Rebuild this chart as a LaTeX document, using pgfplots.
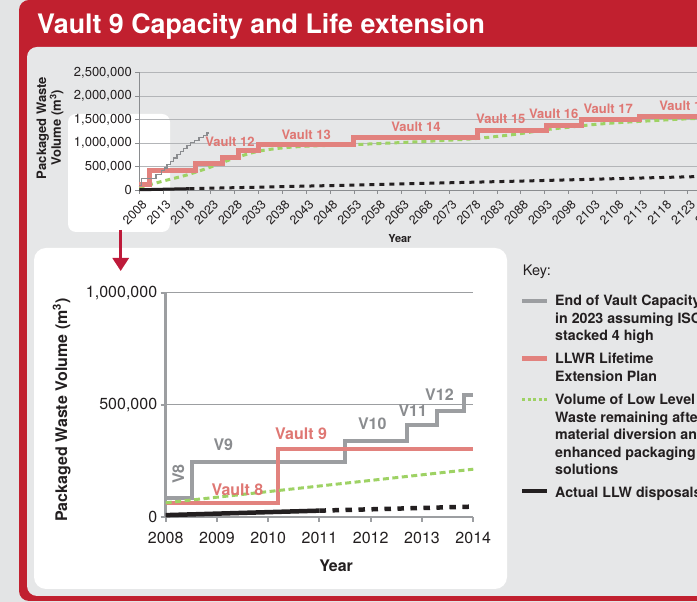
\documentclass[border=0pt]{standalone}
\usepackage{pgfplots}
\pgfplotsset{compat=1.18}
\usepackage{fontspec}
\setmainfont{TeX Gyre Heros}
\usetikzlibrary{arrows.meta}
\definecolor{bggray}{HTML}{E3E4E5}
\definecolor{framered}{HTML}{C1202F}
\definecolor{panelgray}{HTML}{E6E7E8}
\definecolor{arrowred}{HTML}{BE1A3A}
\definecolor{vgray}{HTML}{9C9EA1}
\definecolor{vgraydark}{HTML}{8A8C8F}
\definecolor{vred}{HTML}{E2827E}
\definecolor{lblred}{HTML}{DF7773}
\definecolor{vgreen}{HTML}{9ED264}
\definecolor{vblack}{HTML}{231F20}
\definecolor{gridgray}{HTML}{B3B5B8}
\definecolor{txt}{HTML}{231F20}
\begin{document}
\begin{tikzpicture}[x=1pt,y=1pt]
\useasboundingbox (0,0) rectangle (697,602);
\clip (0,0) rectangle (697,602);
\fill[bggray] (0,0) rectangle (697,602);
\fill[framered, rounded corners=10pt] (19,1) rectangle (760,602);
\fill[panelgray, rounded corners=10pt] (27,6) rectangle (760,555);
\fill[white, rounded corners=8pt] (68,370) rectangle (170,488);
\fill[white, rounded corners=12pt] (34,13) rectangle (507,354);
\draw[arrowred, line width=3pt, -{Triangle[width=16pt,length=13pt]}] (120.7,372) -- (120.7,331);
\node[anchor=base west, text=white, font=\fontsize{26.8}{30}\selectfont\bfseries, inner sep=0pt] at (37,568.7) {Vault 9 Capacity and Life extension};

% ---------------- key ----------------
\node[anchor=base west, text=txt, font=\fontsize{14.5}{17}\selectfont, inner sep=0pt] at (522.7,326) {Key:};
\draw[vgray, line width=4pt] (522,301.3) -- (547,301.3);
\draw[vred, line width=5pt] (522,243) -- (547,243);
\draw[vgreen, line width=3.5pt, dash pattern=on 3pt off 2.5pt] (522,202.3) -- (547,202.3);
\draw[vblack, line width=4pt] (522,111) -- (547,111);
\begin{scope}[every node/.style={anchor=base west, text=txt, font=\fontsize{14.2}{17}\selectfont\bfseries, inner sep=0pt}]
\node at (555,296.3) {End of Vault Capacity};
\node at (555,278.7) {in 2023 assuming ISOs};
\node at (555,261.5) {stacked 4 high};
\node at (555,238) {LLWR Lifetime};
\node at (555,220.5) {Extension Plan};
\node at (555,197) {Volume of Low Level};
\node at (555,179.5) {Waste remaining after};
\node at (555,162) {material diversion and};
\node at (555,144.5) {enhanced packaging};
\node at (555,127) {solutions};
\node at (555,104.3) {Actual LLW disposals};
\end{scope}

% ---------------- top chart ----------------
\begin{axis}[
  scale only axis, width=629.6pt, height=117.5pt,
  at={(139.3pt,412pt)}, anchor=south west,
  xmin=2008, xmax=2140, ymin=0, ymax=2500000,
  clip=false,
  axis x line*=bottom, axis y line*=left,
  axis line style={vgraydark, line width=0.8pt, -},
  major tick length=4pt, tick align=outside,
  tick style={vgraydark, line width=0.8pt},
  xtick={2008,2013,...,2138}, ytick={0,500000,...,2500000},
  scaled y ticks=false,
  yticklabel style={/pgf/number format/fixed, /pgf/number format/1000 sep={,}, /pgf/number format/assume math mode=true, font=\fontsize{13}{15}\selectfont, text=txt},
  xticklabel style={/pgf/number format/1000 sep={}, /pgf/number format/assume math mode=true, font=\fontsize{12.5}{14}\selectfont, xshift=2pt, yshift=-3pt, rotate=45, anchor=north east, inner sep=1.5pt, text=txt},
  ymajorgrids, grid style={gridgray, line width=0.8pt},
  ylabel={Packaged Waste\\Volume (m\textsuperscript{3})},
  ylabel style={align=center, font=\fontsize{13}{13.7}\selectfont\bfseries, text=txt, at={(axis description cs:-0.1418,0.528)}, anchor=center},
  xlabel={Year},
  xlabel style={font=\fontsize{11}{13}\selectfont\bfseries, text=txt, at={(axis description cs:0.414,-0.417)}, anchor=center},
]
\addplot[vgreen, line width=3pt, dash pattern=on 5pt off 4pt, smooth] coordinates {
 (2008,50000) (2013,190000) (2018,320000) (2023,490000) (2028,680000) (2033,825000)
 (2038,895000) (2043,932000) (2048,950000) (2053,965000) (2063,1010000) (2073,1060000)
 (2078,1090000) (2083,1140000) (2088,1200000) (2093,1280000) (2098,1335000) (2103,1390000)
 (2108,1430000) (2113,1460000) (2123,1515000) (2133,1550000) (2140,1570000)};
\addplot[vred, line width=5pt, const plot] coordinates {
 (2008,110000) (2010.2,410000) (2019.8,560000) (2025.4,700000) (2028.8,830000) (2033,960000)
 (2053,1110000) (2079,1260000) (2093.3,1370000) (2100.7,1490000) (2112.9,1570000) (2140,1570000)};
\addplot[vgraydark, line width=1.3pt, const plot] coordinates {
 (2008,90000) (2008.5,245000) (2011.5,336000) (2012.7,410000) (2013.3,470000) (2013.8,542000)
 (2014.5,610000) (2015.2,680000) (2015.9,750000) (2016.6,820000) (2017.3,890000) (2018,950000)
 (2018.8,1010000) (2019.6,1060000) (2020.5,1110000) (2021.4,1160000) (2022.2,1210000) (2022.6,1210000)};
\addplot[vblack, line width=3pt] coordinates {(2008,5000) (2018.5,28000)};
\addplot[vblack, line width=3pt, dash pattern=on 5pt off 5pt] coordinates {
 (2018.5,28000) (2053,105000) (2088,190000) (2123,280000) (2140,320000)};
\begin{scope}[every node/.style={font=\fontsize{13}{15}\selectfont\bfseries, text=lblred}]
\node at (axis cs:2027,1028000) {Vault 12};
\node at (axis cs:2043,1170000) {Vault 13};
\node at (axis cs:2066,1334000) {Vault 14};
\node at (axis cs:2083.8,1504000) {Vault 15};
\node at (axis cs:2094.9,1617000) {Vault 16};
\node at (axis cs:2106.3,1717000) {Vault 17};
\node at (axis cs:2122.2,1787000) {Vault 18};
\end{scope}
\end{axis}

% ---------------- bottom chart ----------------
\begin{axis}[
  scale only axis, width=307.6pt, height=224pt,
  at={(165.7pt,85.3pt)}, anchor=south west,
  xmin=2008, xmax=2014, ymin=0, ymax=1000000,
  clip=false,
  axis x line*=bottom, axis y line*=left,
  x axis line style={vgray, line width=2pt, -},
  y axis line style={vgray, line width=3pt, -},
  major tick length=5pt, tick align=outside,
  tick style={vgray, line width=2pt},
  xtick={2008,2009,...,2014}, ytick={0,500000,1000000},
  scaled y ticks=false,
  yticklabel style={/pgf/number format/fixed, /pgf/number format/1000 sep={,}, /pgf/number format/assume math mode=true, font=\fontsize{16}{18}\selectfont, text=txt},
  xticklabel style={/pgf/number format/1000 sep={}, /pgf/number format/assume math mode=true, font=\fontsize{16}{18}\selectfont, text=txt, yshift=-7pt},
  ymajorgrids, grid style={vgray, line width=1.5pt},
  ylabel={Packaged Waste Volume (m\textsuperscript{3})},
  ylabel style={font=\fontsize{16}{18}\selectfont\bfseries, text=txt, at={(axis description cs:-0.338,0.476)}, anchor=center},
  xlabel={Year},
  xlabel style={font=\fontsize{16}{18}\selectfont\bfseries, text=txt, at={(axis description cs:0.554,-0.220)}, anchor=center},
]
\addplot[vgray, line width=4pt, const plot] coordinates {
 (2008,82000) (2008.51,242000) (2011.5,336000) (2012.7,410000) (2013.3,470000) (2013.82,542000) (2014,542000)};
\addplot[vred, line width=4pt, const plot] coordinates {
 (2008,60000) (2010.2,301000) (2014,301000)};
\addplot[vgreen, line width=3pt, dash pattern=on 6pt off 3.5pt] coordinates {
 (2008,62000) (2011,137000) (2014,212000)};
\addplot[vblack, line width=4.5pt] coordinates {(2008,7000) (2011,27000)};
\addplot[vblack, line width=4.5pt, dash pattern=on 6.5pt off 6.5pt] coordinates {(2011,27000) (2014,45000)};
\begin{scope}[every node/.style={font=\fontsize{16}{18}\selectfont\bfseries}]
\node[text=vgraydark, rotate=90] at (axis cs:2008.245,190600) {V8};
\node[text=vgraydark] at (axis cs:2009.124,320000) {V9};
\node[text=lblred] at (axis cs:2010.64,372000) {Vault 9};
\node[text=vgraydark] at (axis cs:2012.03,414000) {V10};
\node[text=vgraydark] at (axis cs:2012.82,472000) {V11};
\node[text=vgraydark] at (axis cs:2013.34,546000) {V12};
\node[text=lblred] at (axis cs:2009.40,119000) {Vault 8};
\end{scope}
\end{axis}
\end{tikzpicture}
\end{document}
